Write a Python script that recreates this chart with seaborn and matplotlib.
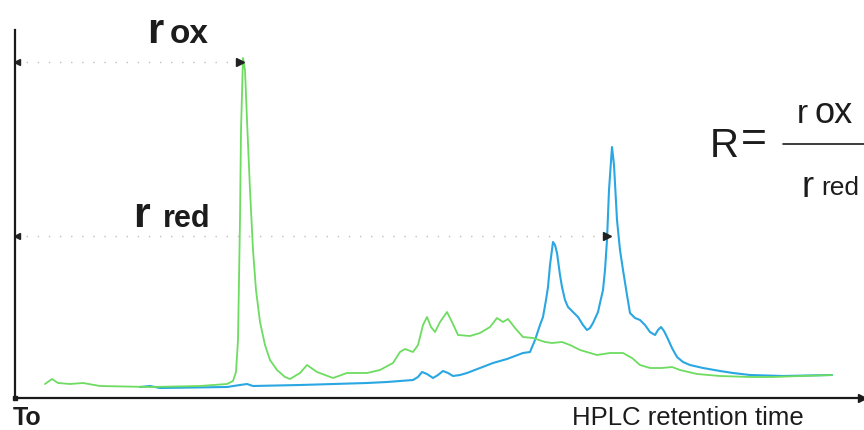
import numpy as np
import matplotlib
matplotlib.use("Agg")
import matplotlib.pyplot as plt
import seaborn as sns
import pandas as pd

# chromatogram traces (arbitrary units)
ox_time = [30, 37, 43, 55, 68, 85, 135, 185, 212, 218, 221, 223, 225, 226, 228, 230, 232, 235,
           238, 241, 245, 250, 255, 262, 270, 275, 285, 292, 302, 318, 332, 352, 365, 378, 385,
           390, 398, 403, 408, 412, 416, 420, 425, 432, 437, 443, 455, 465, 475, 482, 488, 493,
           500, 508, 518, 530, 537, 547, 555, 565, 582, 595, 608, 617, 625, 635, 647, 657, 665,
           682, 705, 735, 758, 785, 817]
ox_signal = [14, 19, 15, 14, 15, 12, 11, 12, 14, 17, 26, 58, 178, 268, 340, 328, 278, 208,
             148, 108, 76, 53, 38, 28, 21, 19, 25, 33, 26, 20, 25, 25, 28, 35, 46,
             49, 46, 53, 73, 81, 71, 66, 76, 86, 76, 63, 62, 65, 71, 80, 76, 79,
             70, 61, 60, 56, 55, 56, 53, 48, 43, 45, 45, 40, 33, 30, 30, 31, 28,
             24, 22, 21, 21, 22, 23]

red_time = [125, 135, 145, 212, 225, 232, 238, 285, 352, 372, 385, 398, 403, 407, 412, 418, 423,
            428, 433, 438, 445, 452, 465, 478, 485, 492, 500, 508, 515, 520, 525, 528, 531, 533,
            535, 538, 540, 542, 545, 547, 550, 553, 558, 563, 568, 572, 575, 578, 583, 585, 588,
            590, 592, 594, 597, 599, 602, 605, 608, 612, 615, 620, 625, 630, 635, 640, 643, 646,
            649, 652, 657, 662, 668, 675, 688, 705, 718, 735, 768, 817]
red_signal = [11, 12, 10, 11, 13, 14, 12, 13, 15, 16, 17, 18, 21, 26, 24, 20, 23,
              27, 25, 22, 23, 25, 30, 35, 37, 39, 42, 45, 46, 58, 73, 81, 98, 111,
              133, 156, 153, 145, 123, 111, 98, 91, 86, 81, 73, 68, 70, 75, 86, 95, 108,
              128, 158, 208, 251, 233, 178, 148, 128, 103, 85, 80, 78, 73, 66, 63, 68, 71,
              67, 61, 50, 41, 36, 33, 30, 27, 25, 23, 22, 23]

r_ox_level, r_ox_time = 336, 225
r_red_level, r_red_time = 162, 592

ox = pd.DataFrame({"time": ox_time, "signal": ox_signal})
red = pd.DataFrame({"time": red_time, "signal": red_signal})

sns.set_theme(style="white")
plt.rcParams["font.family"] = ["Liberation Sans Narrow", "Liberation Sans", "DejaVu Sans"]

fig = plt.figure(figsize=(8.64, 4.30), dpi=100)
ax = fig.add_axes([15 / 864, 32 / 430, 847 / 864, 368 / 430])

sns.lineplot(data=red, x="time", y="signal", ax=ax, color="#2aa7e2", lw=1.5, clip_on=False)
sns.lineplot(data=ox, x="time", y="signal", ax=ax, color="#6ddc60", lw=1.3, clip_on=False)

ax.set_xlim(0, 847)
ax.set_ylim(0, 368)
ax.set_xticks([])
ax.set_yticks([])
ax.set_xlabel("")
ax.set_ylabel("")
for s in ["top", "right"]:
    ax.spines[s].set_visible(False)
for s in ["left", "bottom"]:
    ax.spines[s].set_color("#1a1a1a")
    ax.spines[s].set_linewidth(1.6)
ax.plot(1, 0, ">", color="#1a1a1a", ms=6, transform=ax.transAxes, clip_on=False)
ax.plot(0, 0, "s", color="#1a1a1a", ms=3, transform=ax.transAxes, clip_on=False)

# dotted guides for the two peak heights
for lvl, t in [(r_ox_level, r_ox_time), (r_red_level, r_red_time)]:
    ax.plot([0, t], [lvl, lvl], color="#c0c0c0", lw=1, ls=(0, (1, 7)), clip_on=False)
    ax.plot(t, lvl, ">", color="#222222", ms=6, clip_on=False)
    ax.plot(2, lvl, "<", color="#222222", ms=5, clip_on=False)

ink = "#1c1c1c"
ax.text(132, 355, "r", fontsize=30, fontweight="bold", color=ink, clip_on=False)
ax.text(155, 355, "ox", fontsize=24, fontweight="bold", color=ink, clip_on=False)
ax.text(118, 171, "r", fontsize=31, fontweight="bold", color=ink, clip_on=False)
ax.text(148, 171, "red", fontsize=22, fontweight="bold", color=ink, clip_on=False)

# ratio formula
ax.text(695, 241, "R", fontsize=29, color=ink, clip_on=False)
ax.text(726, 257, "=", fontsize=32, color=ink, va="center", clip_on=False)
ax.plot([768, 852], [254, 254], color=ink, lw=1.2, clip_on=False)
ax.text(782, 275, "r", fontsize=24, color=ink, clip_on=False)
ax.text(799, 275, "ox", fontsize=26, color=ink, clip_on=False)
ax.text(786, 201, "r", fontsize=26, color=ink, clip_on=False)
ax.text(806, 203, "red", fontsize=19, color=ink, clip_on=False)

ax.text(557, -27, "HPLC retention time", fontsize=18.5, color=ink, va="baseline", clip_on=False)
ax.text(-2, -27, "To", fontsize=18, fontweight="bold", color=ink, va="baseline", clip_on=False)

fig.savefig("out.png", dpi=100, facecolor="white")
